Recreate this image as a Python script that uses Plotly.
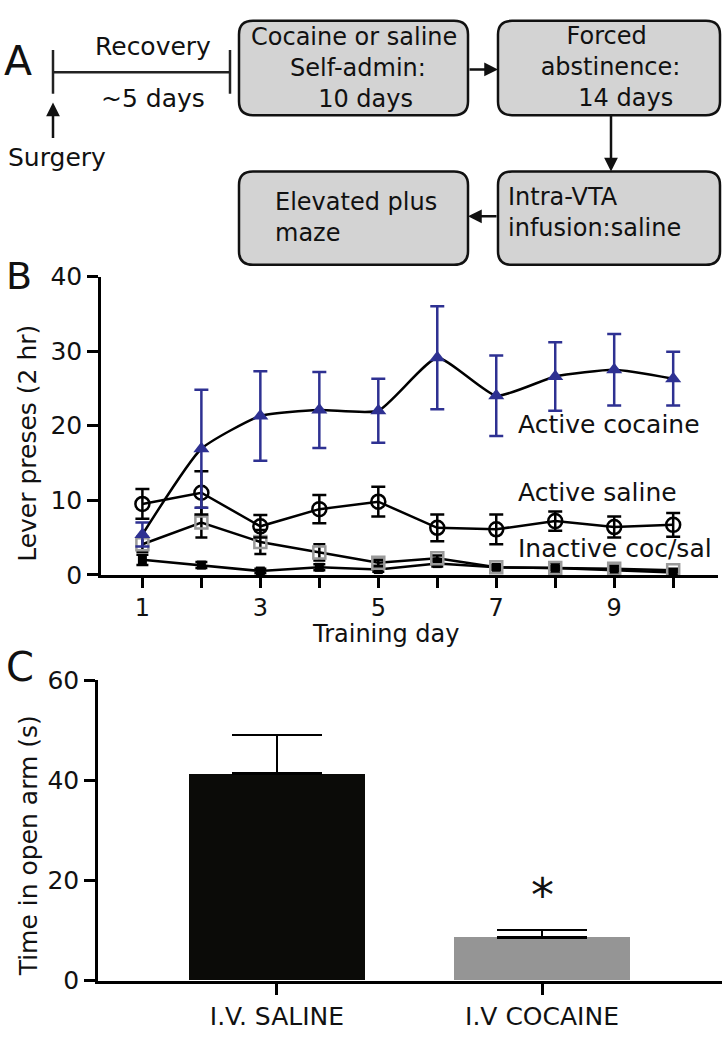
import plotly.graph_objects as go

# ---------------- data ----------------
days = [1, 2, 3, 4, 5, 6, 7, 8, 9, 10]
day_ticklabels = ["1", "", "3", "", "5", "", "7", "", "9", ""]

active_cocaine = [5.4, 16.9, 21.3, 22.1, 22.0, 29.1, 24.0, 26.6, 27.5, 26.3]
active_cocaine_sem = [1.6, 7.9, 6.0, 5.1, 4.3, 6.9, 5.4, 4.6, 4.8, 3.6]

active_saline = [9.5, 11.0, 6.5, 8.8, 9.8, 6.3, 6.1, 7.2, 6.4, 6.7]
active_saline_sem = [2.0, 2.9, 1.5, 1.9, 2.0, 1.8, 2.0, 1.3, 1.4, 1.6]

inactive_cocaine = [4.1, 7.0, 4.4, 3.0, 1.6, 2.2, 1.0, 0.9, 0.8, 0.6]
inactive_cocaine_sem = [1.0, 2.0, 1.6, 1.1, 0.4, 0.4, 0.3, 0.3, 0.3, 0.2]

inactive_saline = [2.0, 1.3, 0.5, 1.0, 0.7, 1.5, 1.0, 0.9, 0.6, 0.3]
inactive_saline_sem = [0.7, 0.4, 0.3, 0.4, 0.3, 0.4, 0.3, 0.7, 0.6, 0.3]

b_yticks = [0, 10, 20, 30, 40]

groups = ["I.V. SALINE", "I.V COCAINE"]
open_arm_time = [41.3, 8.6]
open_arm_sem = [7.7, 1.5]
c_yticks = [0, 20, 40, 60]

# ---------------- style ----------------
W, H = 727, 1050
FONT = "DejaVu Sans"
BLUE = "#2E3192"
GREY = "#9A9A9A"
LW = 2.5
NB = "\u00a0"


def fx(x):
    return x / W


def fy(y):
    return 1 - y / H


fig = go.Figure()

# Panel B traces
fig.add_trace(go.Scatter(
    x=days, y=inactive_saline, mode="lines+markers", cliponaxis=False,
    line=dict(color="black", width=LW),
    marker=dict(symbol="square", size=9, color="black"),
    error_y=dict(type="data", array=inactive_saline_sem, color="black", thickness=LW, width=6),
    xaxis="x", yaxis="y", showlegend=False))
fig.add_trace(go.Scatter(
    x=days, y=inactive_cocaine, mode="lines+markers", cliponaxis=False,
    line=dict(color="black", width=LW),
    marker=dict(symbol="square-open", size=12, color=GREY, line=dict(width=2.5, color=GREY)),
    error_y=dict(type="data", array=inactive_cocaine_sem, color="black", thickness=LW, width=6),
    xaxis="x", yaxis="y", showlegend=False))
fig.add_trace(go.Scatter(
    x=days, y=active_saline, mode="lines+markers", cliponaxis=False,
    line=dict(color="black", width=LW),
    marker=dict(symbol="circle-open", size=14, color="black", line=dict(width=2.5, color="black")),
    error_y=dict(type="data", array=active_saline_sem, color="black", thickness=LW, width=7),
    xaxis="x", yaxis="y", showlegend=False))
fig.add_trace(go.Scatter(
    x=days, y=active_cocaine, mode="lines+markers", cliponaxis=False,
    line=dict(color="black", width=LW, shape="spline", smoothing=0.5),
    marker=dict(symbol="triangle-up", size=14, color=BLUE),
    error_y=dict(type="data", array=active_cocaine_sem, color=BLUE, thickness=LW, width=7),
    xaxis="x", yaxis="y", showlegend=False))

# Panel C bars
fig.add_trace(go.Bar(
    x=groups, y=open_arm_time, width=0.664,
    marker=dict(color=["#0B0B08", "#959595"], line=dict(width=0)),
    error_y=dict(type="data", symmetric=False, array=open_arm_sem, arrayminus=[0, 0],
                 color="black", thickness=LW, width=45),
    xaxis="x2", yaxis="y2", showlegend=False))

axis_common = dict(showline=True, linecolor="black", linewidth=LW, ticks="outside",
                   tickcolor="black", tickwidth=LW, showgrid=False, zeroline=False)
tf25 = dict(family=FONT, size=25, color="#111")
tf24 = dict(family=FONT, size=24, color="#111")

fig.update_layout(
    width=W, height=H, margin=dict(l=0, r=0, t=0, b=0),
    paper_bgcolor="white", plot_bgcolor="white",
    font=dict(family=FONT, size=25, color="#111"),
    xaxis=dict(domain=[fx(101), fx(718)], range=[0.298, 10.76], anchor="y",
               tickmode="array", tickvals=days, ticktext=day_ticklabels, ticklen=10,
               tickfont=tf24, **axis_common),
    yaxis=dict(domain=[fy(576.7), fy(270)], range=[0, 40], anchor="x",
               tickmode="array", tickvals=b_yticks, ticklen=11, tickfont=tf25, **axis_common),
    xaxis2=dict(domain=[fx(98), fx(722)], range=[-0.675, 1.679], anchor="y2", type="category",
                ticklen=12, tickfont=tf25, **axis_common),
    yaxis2=dict(domain=[fy(994), fy(685)], range=[0, 60], anchor="x2",
                tickmode="array", tickvals=c_yticks, ticklen=11, tickfont=tf25, **axis_common),
    bargap=0,
)

# ---------------- Panel A diagram ----------------
shapes = []


def rrect(x0, y0, x1, y1, r=14):
    p = [
        f"M{fx(x0 + r)},{fy(y0)}", f"L{fx(x1 - r)},{fy(y0)}",
        f"Q{fx(x1)},{fy(y0)} {fx(x1)},{fy(y0 + r)}", f"L{fx(x1)},{fy(y1 - r)}",
        f"Q{fx(x1)},{fy(y1)} {fx(x1 - r)},{fy(y1)}", f"L{fx(x0 + r)},{fy(y1)}",
        f"Q{fx(x0)},{fy(y1)} {fx(x0)},{fy(y1 - r)}", f"L{fx(x0)},{fy(y0 + r)}",
        f"Q{fx(x0)},{fy(y0)} {fx(x0 + r)},{fy(y0)}", "Z",
    ]
    return dict(type="path", xref="paper", yref="paper", path=" ".join(p),
                fillcolor="#D3D3D3", line=dict(color="#111", width=2.5), layer="below")


def seg(x0, y0, x1, y1):
    return dict(type="line", xref="paper", yref="paper", x0=fx(x0), y0=fy(y0),
                x1=fx(x1), y1=fy(y1), line=dict(color="#222", width=2.5))


shapes += [rrect(239, 7, 468, 104), rrect(498, 7, 720, 104),
           rrect(498, 162, 720, 258), rrect(239, 162, 468, 258)]
shapes += [seg(53, 60, 230, 60), seg(53, 37, 53, 82), seg(230, 37, 230, 82)]
fig.update_layout(shapes=shapes)

ann = []


def txt(s, x, y, size=25, xanchor="center", angle=0, align="center"):
    ann.append(dict(text=s, xref="paper", yref="paper", x=fx(x), y=fy(y),
                    xanchor=xanchor, yanchor="middle", showarrow=False, textangle=angle,
                    align=align, font=dict(family=FONT, size=size, color="#111")))


def arrow(xt, yt, ax, ay):
    ann.append(dict(text="", xref="paper", yref="paper", x=fx(xt), y=fy(yt),
                    ax=ax, ay=ay, showarrow=True, arrowhead=2, arrowsize=1.1,
                    arrowwidth=2.5, arrowcolor="#111", standoff=0))


txt("A", 18, 48, size=41)
txt("B", 19, 269, size=38)
txt("C", 20, 672, size=40)

txt("Recovery", 153, 33)
txt("~5 days", 153, 87)
txt("Surgery", 57, 148)
arrow(53, 91, 0, 37)

txt("Cocaine or saline<br>" + NB + "Self-admin:<br>" + NB * 3 + "10 days", 354, 56, size=24)
txt("Forced<br>" + NB + "abstinence:<br>" + NB * 5 + "14 days", 606, 54, size=24)
txt("Intra-VTA<br>infusion:saline", 506, 204, size=24, xanchor="left", align="left")
txt("Elevated plus<br>maze", 273, 209, size=24, xanchor="left", align="left")

arrow(498, 57, -30, 0)
arrow(611, 162, 0, -58)
arrow(468, 208, 30, 0)

# axis titles
txt("Lever preses (2 hr)", 28, 442, angle=-90)
txt("Training day", 385, 638, size=24)
txt("Time in open arm (s)", 28, 856, angle=-90)

# panel B series labels (data coords)
for s, yv in [("Active cocaine", 20.2), ("Active saline", 11.1), ("Inactive coc/sal", 3.5)]:
    ann.append(dict(text=s, xref="x", yref="y", x=7.34, y=yv, xanchor="left", yanchor="middle",
                    showarrow=False, font=dict(family=FONT, size=25, color="#111")))

# significance asterisk
ann.append(dict(text="*", xref="x2", yref="y2", x=groups[1], y=17.0, xanchor="center",
                yanchor="middle", showarrow=False, font=dict(family=FONT, size=46, color="#111")))

fig.update_layout(annotations=ann)

fig.write_html("out.html", config={"displayModeBar": False},
               post_script="document.body.style.margin='0';")
